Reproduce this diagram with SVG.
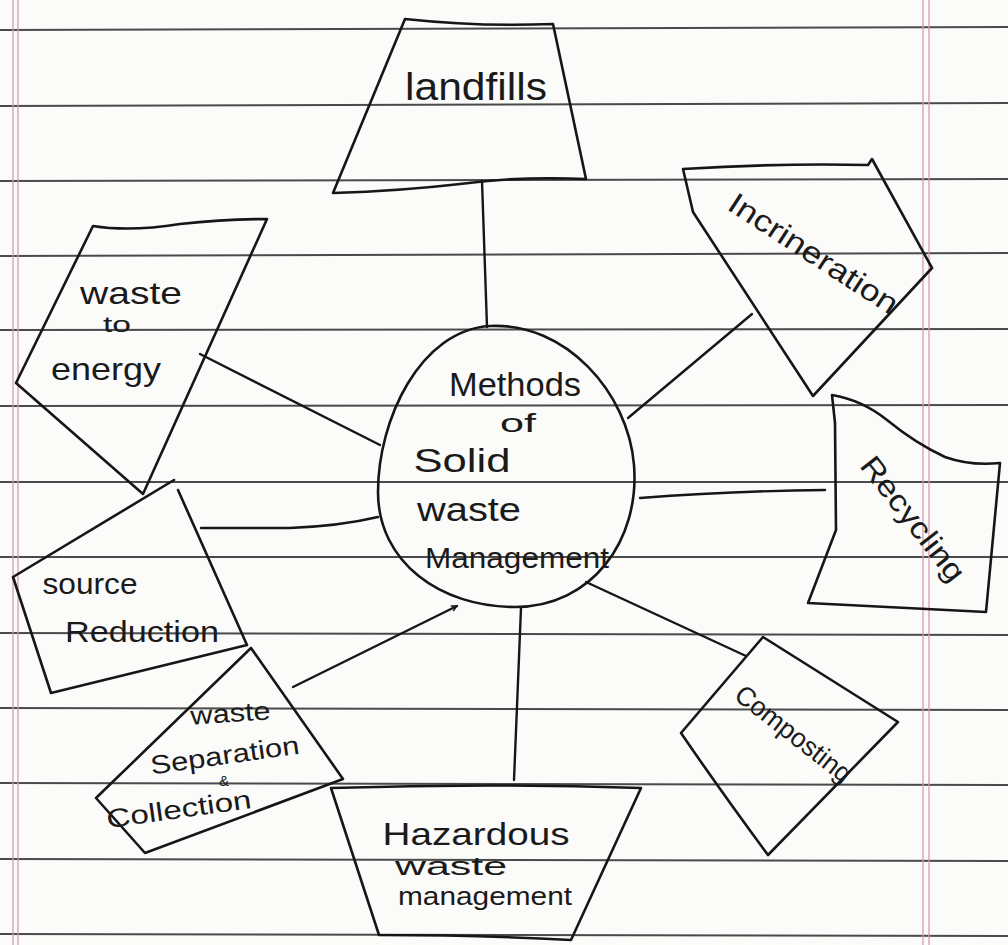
<svg xmlns="http://www.w3.org/2000/svg" width="1008" height="945" viewBox="0 0 1008 945">
<defs>
<style>
.rule{stroke:#4a4a4a;stroke-width:1.8;fill:none}
.margin{stroke:#d99ab0;stroke-width:1.3;fill:none}
.shape{stroke:#161616;stroke-width:2.6;fill:none;stroke-linejoin:round;stroke-linecap:round}
.conn{stroke:#161616;stroke-width:2.4;fill:none;stroke-linecap:round}
.hw{font-family:"Liberation Sans Narrow","Liberation Sans",sans-serif;fill:#1a1a1a}
</style>
<marker id="tip" viewBox="0 0 10 10" refX="9" refY="5" markerWidth="7" markerHeight="7" orient="auto" markerUnits="userSpaceOnUse">
<path d="M1 1 L9 5 L1 9" fill="none" stroke="#161616" stroke-width="2"/>
</marker>
</defs>
<rect width="1008" height="945" fill="#fbfbfa"/>
<g id="paper">
<path class="rule" d="M0 30 L1008 27"/>
<path class="rule" d="M0 106 L1008 103"/>
<path class="rule" d="M0 181 L1008 179"/>
<path class="rule" d="M0 256 L1008 253"/>
<path class="rule" d="M0 330 L1008 329"/>
<path class="rule" d="M0 406 L1008 405"/>
<path class="rule" d="M0 482 L1008 482"/>
<path class="rule" d="M0 557 L1008 557"/>
<path class="rule" d="M0 633 L1008 635"/>
<path class="rule" d="M0 708 L1008 710"/>
<path class="rule" d="M0 783 L1008 785"/>
<path class="rule" d="M0 859 L1008 861"/>
<path class="rule" d="M0 934 L1008 936"/>
<path class="margin" d="M13 0 L13 945"/>
<path class="margin" d="M18 0 L18 945"/>
<path class="margin" d="M923 0 L923 945"/>
<path class="margin" d="M929 0 L929 945"/>
</g>
<g id="connectors">
<path class="conn" d="M482 181 L487 327"/>
<path class="conn" d="M752 314 L628 418"/>
<path class="conn" d="M825 490 Q730 491 640 498"/>
<path class="conn" d="M586 582 L746 656"/>
<path class="conn" d="M521 608 L514 780"/>
<path class="conn" d="M293 687 L457 606" marker-end="url(#tip)"/>
<path class="conn" d="M201 528 Q240 528 290 528 Q340 526 378 517"/>
<path class="conn" d="M200 354 L380 445"/>
</g>
<g id="node-center">
<path class="shape" d="M490 326 C565 322 628 392 634 465 C640 540 592 607 515 607 C440 607 378 562 378 492 C378 420 420 330 490 326 Z"/>
<text class="hw" x="515" y="396" font-size="34" text-anchor="middle" textLength="132" lengthAdjust="spacingAndGlyphs">Methods</text>
<text class="hw" x="518" y="432" font-size="26" text-anchor="middle" textLength="36" lengthAdjust="spacingAndGlyphs">of</text>
<text class="hw" x="462" y="472" font-size="34" text-anchor="middle" textLength="97" lengthAdjust="spacingAndGlyphs">Solid</text>
<text class="hw" x="469" y="521" font-size="34" text-anchor="middle" textLength="104" lengthAdjust="spacingAndGlyphs">waste</text>
<text class="hw" x="517" y="568" font-size="30" text-anchor="middle" textLength="184" lengthAdjust="spacingAndGlyphs">Management</text>
</g>
<g id="node-landfills">
<path class="shape" d="M405 19 Q480 27 553 24 L586 179 Q520 176 460 184 Q400 191 333 193 Z"/>
<text class="hw" x="476" y="100" font-size="38" text-anchor="middle" textLength="142" lengthAdjust="spacingAndGlyphs">landfills</text>
</g>
<g id="node-incineration">
<path class="shape" d="M683 169 L693 212 L813 396 L932 268 L872 159 L868 165 Q780 163 683 169 Z"/>
<text class="hw" x="0" y="0" font-size="30" text-anchor="middle" textLength="196" lengthAdjust="spacingAndGlyphs" transform="translate(808 262) rotate(33)">Incrineration</text>
</g>
<g id="node-recycling">
<path class="shape" d="M832 395 Q862 400 887 420 Q915 443 945 457 Q970 466 1000 463 L986 612 L808 603 L836 530 L835 423 Z"/>
<text class="hw" x="0" y="0" font-size="30" text-anchor="middle" textLength="150" lengthAdjust="spacingAndGlyphs" transform="translate(905 525) rotate(52)">Recycling</text>
</g>
<g id="node-composting">
<path class="shape" d="M763 637 L898 722 L768 855 Q720 790 681 733 Z"/>
<text class="hw" x="0" y="0" font-size="27" text-anchor="middle" textLength="140" lengthAdjust="spacingAndGlyphs" transform="translate(788 741) rotate(38)">Composting</text>
</g>
<g id="node-hazardous">
<path class="shape" d="M331 788 Q490 783 641 788 L571 940 Q480 935 379 935 Z"/>
<text class="hw" x="476" y="845" font-size="32" text-anchor="middle" textLength="187" lengthAdjust="spacingAndGlyphs">Hazardous</text>
<text class="hw" x="451" y="875" font-size="26" text-anchor="middle" textLength="112" lengthAdjust="spacingAndGlyphs">waste</text>
<text class="hw" x="485" y="905" font-size="26" text-anchor="middle" textLength="174" lengthAdjust="spacingAndGlyphs">management</text>
</g>
<g id="node-separation">
<path class="shape" d="M251 648 L343 779 L145 853 L96 798 Z"/>
<text class="hw" x="0" y="0" font-size="26" text-anchor="middle" textLength="80" lengthAdjust="spacingAndGlyphs" transform="translate(231 722) rotate(-4)">waste</text>
<text class="hw" x="0" y="0" font-size="26" text-anchor="middle" textLength="150" lengthAdjust="spacingAndGlyphs" transform="translate(226 764) rotate(-8)">Separation</text>
<text class="hw" x="0" y="0" font-size="15" text-anchor="middle" transform="translate(224 786)">&amp;</text>
<text class="hw" x="0" y="0" font-size="26" text-anchor="middle" textLength="146" lengthAdjust="spacingAndGlyphs" transform="translate(180 818) rotate(-8)">Collection</text>
</g>
<g id="node-source">
<path class="shape" d="M174 480 L13 577 L51 693 L247 645 L178 490"/>
<text class="hw" x="90" y="594" font-size="30" text-anchor="middle" textLength="95" lengthAdjust="spacingAndGlyphs">source</text>
<text class="hw" x="142" y="642" font-size="30" text-anchor="middle" textLength="154" lengthAdjust="spacingAndGlyphs">Reduction</text>
</g>
<g id="node-energy">
<path class="shape" d="M93 226 Q130 232 180 224 Q225 219 267 219 L143 494 L16 383 Z"/>
<text class="hw" x="131" y="304" font-size="32" text-anchor="middle" textLength="102" lengthAdjust="spacingAndGlyphs">waste</text>
<text class="hw" x="117" y="332" font-size="22" text-anchor="middle" textLength="28" lengthAdjust="spacingAndGlyphs">to</text>
<text class="hw" x="106" y="380" font-size="32" text-anchor="middle" textLength="110" lengthAdjust="spacingAndGlyphs">energy</text>
</g>
</svg>
